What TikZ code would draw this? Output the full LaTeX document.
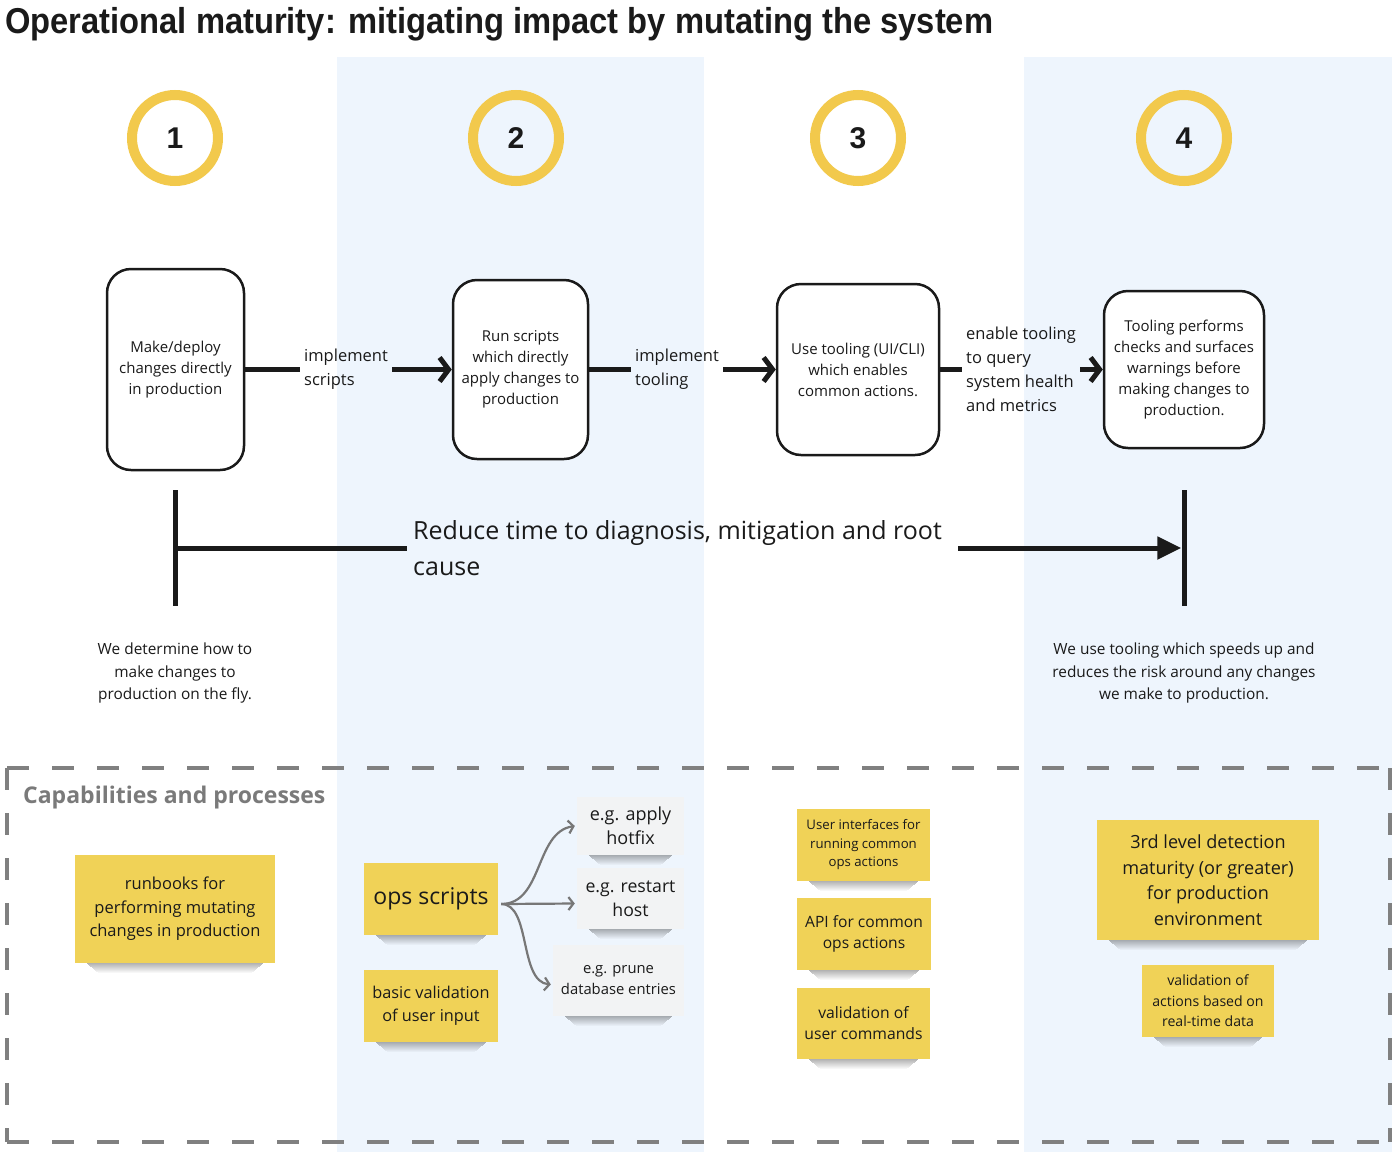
\documentclass[tikz,border=0pt]{standalone}
\usepackage{fontspec}
\setmainfont{Open Sans}
\newfontfamily\titlefont{Liberation Sans}
\usetikzlibrary{arrows.meta}
\definecolor{colblue}{HTML}{EEF5FD}
\definecolor{ringyellow}{HTML}{F2C94C}
\definecolor{stickyyellow}{HTML}{F0D257}
\definecolor{stickygray}{HTML}{F2F3F4}
\definecolor{dashgray}{HTML}{808080}
\definecolor{capgray}{HTML}{7A7A7A}
\definecolor{ink}{HTML}{1A1A1A}
\definecolor{arrowgray}{HTML}{777777}
\pgfdeclarelayer{bg}
\pgfdeclarelayer{shadow}
\pgfsetlayers{bg,shadow,main}
\newcommand\stickshadow[1]{%
  \begin{pgfonlayer}{shadow}
    \foreach \i in {0,...,9}{
      \pgfmathsetmacro\op{0.30*(1-\i/10)}
      \pgfmathsetmacro\ins{12+1.2*\i}
      \fill[black,opacity=\op] ([xshift=\ins pt,yshift=-\i pt]#1.south west) rectangle ([xshift=-\ins pt,yshift=-\i pt-1pt]#1.south east);
    }
  \end{pgfonlayer}}
\tikzset{
  ring/.style={circle, draw=ringyellow, line width=10pt, minimum size=86pt, inner sep=0pt,
    font=\titlefont\bfseries\fontsize{30}{30}\selectfont, text=ink},
  procbox/.style={draw=ink, line width=2.5pt, rounded corners=24pt, fill=white, align=center,
    inner sep=0pt, font=\fontsize{15}{21}\selectfont, text=ink},
  flowlabel/.style={anchor=west, align=left, inner sep=4pt, font=\fontsize{16.5}{24}\selectfont, text=ink},
  flowline/.style={draw=ink, line width=5pt},
  flowarrow/.style={draw=ink, line width=5pt, -{Straight Barb[length=9pt,width=24pt]}},
  bar/.style={rectangle, fill=ink, minimum width=5pt, minimum height=116pt, inner sep=0pt},
  desc/.style={align=center, inner sep=0pt, font=\fontsize{15.4}{22.5}\selectfont, text=ink},
  sticky/.style={rectangle, fill=stickyyellow, align=center, inner sep=0pt, text=ink},
  graysticky/.style={rectangle, fill=stickygray, align=center, inner sep=0pt, text=ink},
  subarrow/.style={draw=arrowgray, line width=2.2pt, -{Straight Barb[length=5pt,width=13pt]}},
  dashside/.style={draw=dashgray, line width=4pt, dash pattern=on 22pt off 23pt},
}
\begin{document}
\begin{tikzpicture}[x=1pt,y=-1pt]
\useasboundingbox (0,0) rectangle (1398,1152);
\begin{pgfonlayer}{bg}
  \fill[white] (0,0) rectangle (1398,1152);
  \fill[colblue] (337,57) rectangle (704,1152);
  \fill[colblue] (1024,57) rectangle (1392,1152);
\end{pgfonlayer}

% title
\node[anchor=base west, inner sep=0pt, text=ink] (title) at (5,33)
  {\resizebox{988pt}{\height}{\titlefont\bfseries\fontsize{36}{40}\selectfont Operational maturity: mitigating impact by mutating the system}};

% numbered rings
\node[ring] (c1) at (175,138) {1};
\node[ring] (c2) at (516,138) {2};
\node[ring] (c3) at (858,138) {3};
\node[ring] (c4) at (1184,138) {4};

% process boxes
\node[procbox, minimum width=137pt, minimum height=201pt] (b1) at (175.5,369.5)
  {Make/deploy\\changes directly\\in production};
\node[procbox, minimum width=135pt, minimum height=179pt] (b2) at (520.5,369.5)
  {Run scripts\\which directly\\apply changes to\\production};
\node[procbox, minimum width=162pt, minimum height=171pt] (b3) at (858,369.5)
  {Use tooling (UI/CLI)\\which enables\\common actions.};
\node[procbox, minimum width=160pt, minimum height=157pt] (b4) at (1184,369.5)
  {Tooling performs\\checks and surfaces\\warnings before\\making changes to\\production.};

% connector labels
\node[flowlabel] (l1) at (300,369.5) {implement\\scripts};
\node[flowlabel] (l2) at (631,369.5) {implement\\tooling};
\node[flowlabel] (l3) at (962,369.5) {enable tooling\\to query\\system health\\and metrics};

\draw[flowline] (b1.east) -- (l1.west);
\draw[flowarrow] (l1.east) -- (b2.west);
\draw[flowline] (b2.east) -- (l2.west);
\draw[flowarrow] (l2.east) -- (b3.west);
\draw[flowline] (b3.east) -- (l3.west);
\draw[flowarrow] (l3.east) -- (b4.west);

% timeline
\node[bar] (bar1) at (175,548) {};
\node[bar] (bar4) at (1184,548) {};
\node[anchor=west, align=left, inner xsep=6pt, inner ysep=2pt, font=\fontsize{25}{36}\selectfont, text=ink] (reduce) at (407,548)
  {Reduce time to diagnosis, mitigation and root\\cause};
\draw[flowline] (bar1.center) -- (reduce.west);
\draw[draw=ink, line width=5pt, -{Triangle[length=24pt,width=22pt]}] ([xshift=10pt]reduce.east) -- (bar4.west);

\node[desc] (d1) at (175,673) {We determine how to\\make changes to\\production on the fly.};
\node[desc] (d4) at (1184,673) {We use tooling which speeds up and\\reduces the risk around any changes\\we make to production.};

% capabilities frame
\coordinate (f1) at (7,768);
\coordinate (f2) at (1390,768);
\coordinate (f3) at (1390,1142);
\coordinate (f4) at (7,1142);
\draw[dashside] (f1) -- (f2);
\draw[dashside] (f4) -- (f3);
\draw[dashside] (f1) -- (f4);
\draw[dashside] (f2) -- (f3);
\node[anchor=west, inner sep=0pt, font=\bfseries\fontsize{23}{28}\selectfont, text=capgray] (cap) at (23,798)
  {Capabilities and processes};

% stickies
\node[sticky, minimum width=200pt, minimum height=108pt, font=\fontsize{16.5}{23.5}\selectfont] (s1) at (175,909)
  {runbooks for\\performing mutating\\changes in production};
\node[sticky, minimum width=134pt, minimum height=72pt, font=\fontsize{23}{28}\selectfont] (ops) at (431,899)
  {ops scripts};
\node[sticky, minimum width=134pt, minimum height=72pt, font=\fontsize{16.3}{23}\selectfont] (basic) at (431,1006)
  {basic validation\\of user input};
\node[graysticky, minimum width=107pt, minimum height=58pt, font=\fontsize{18}{24}\selectfont] (hotfix) at (630.5,826)
  {e.g. apply\\hotfix};
\node[graysticky, minimum width=107pt, minimum height=61pt, font=\fontsize{17.7}{24}\selectfont] (restart) at (630.5,898.5)
  {e.g. restart\\host};
\node[graysticky, minimum width=131pt, minimum height=71pt, font=\fontsize{14.8}{21}\selectfont] (prune) at (618.5,980.5)
  {e.g. prune\\database entries};
\node[sticky, minimum width=133pt, minimum height=72pt, font=\fontsize{13.2}{18.5}\selectfont] (ui) at (863.5,845)
  {User interfaces for\\running common\\ops actions};
\node[sticky, minimum width=134pt, minimum height=72pt, font=\fontsize{15.6}{21}\selectfont] (api) at (864,934)
  {API for common\\ops actions};
\node[sticky, minimum width=133pt, minimum height=71pt, font=\fontsize{15.7}{21}\selectfont] (valcmd) at (863.5,1023.5)
  {validation of\\user commands};
\node[sticky, minimum width=222pt, minimum height=120pt, font=\fontsize{18.1}{25.5}\selectfont] (third) at (1208,880)
  {3rd level detection\\maturity (or greater)\\for production\\environment};
\node[sticky, minimum width=132pt, minimum height=72pt, font=\fontsize{14.1}{20.5}\selectfont] (valact) at (1208,1001)
  {validation of\\actions based on\\real-time data};

\stickshadow{s1}
\stickshadow{ops}
\stickshadow{basic}
\stickshadow{hotfix}
\stickshadow{restart}
\stickshadow{prune}
\stickshadow{ui}
\stickshadow{api}
\stickshadow{valcmd}
\stickshadow{third}
\stickshadow{valact}

% sub arrows
\coordinate (opsout) at ([xshift=3pt,yshift=-5pt]ops.east);
\draw[subarrow] (opsout) .. controls +(42,0) and +(-40,6) .. ([xshift=-2pt]hotfix.west);
\draw[subarrow] (opsout) -- ([xshift=-2pt,yshift=-5pt]restart.west);
\draw[subarrow] (opsout) .. controls +(30,0) and +(-32,-3) .. ([xshift=-2pt,yshift=-4pt]prune.west);
\end{tikzpicture}
\end{document}
